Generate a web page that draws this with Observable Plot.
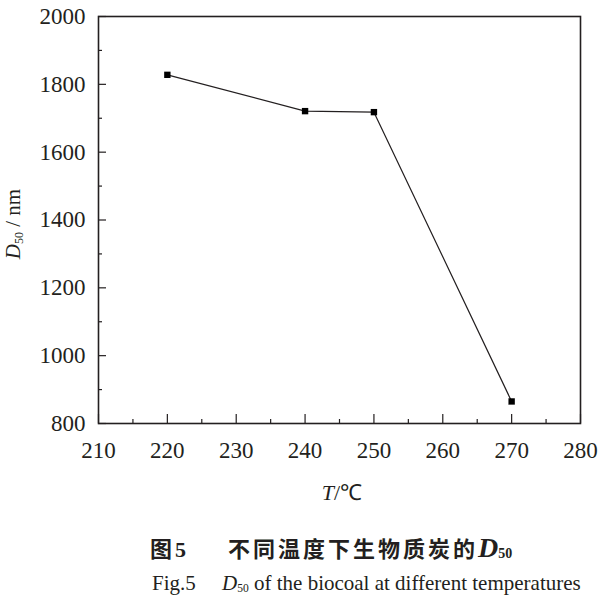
<!DOCTYPE html>
<html>
<head>
<meta charset="utf-8">
<script src="https://cdn.jsdelivr.net/npm/d3@7"></script>
<script src="https://cdn.jsdelivr.net/npm/@observablehq/plot@0.6"></script>
<style>
  body { margin: 0; background: #fff; width: 600px; height: 604px; position: relative; overflow: hidden; }
  #chart { position: absolute; left: 0; top: 0; }
  .cap-cn { position: absolute; left: 150px; top: 532px; font-family: "Noto Sans CJK SC", sans-serif; font-weight: 700; font-size: 22px; line-height: 30px; color: #231f20; white-space: nowrap; }
  .cap-cn .zh { letter-spacing: 3px; }
  .cap-en { position: absolute; left: 152px; top: 569px; font-family: "Liberation Serif", serif; font-size: 21px; line-height: 28px; color: #231f20; white-space: nowrap; }
  .ser { font-family: "Liberation Serif", serif; }
  .bigD { font-size: 28px; font-style: italic; font-weight: 700; }
  sub { font-size: 0.55em; vertical-align: -0.15em; }
  .cap-cn sub { font-size: 14px; vertical-align: -0.1em; }
</style>
</head>
<body>
<div id="chart"></div>
<div class="cap-cn"><span class="zh">图</span><span class="ser">5</span><span class="zh" style="margin-left:42px">不同温度下生物质炭的</span><span class="ser"><span class="bigD">D</span><sub>50</sub></span></div>
<div class="cap-en">Fig.5&nbsp;&nbsp;&nbsp;&nbsp;&nbsp;<i>D</i><sub>50</sub> of the biocoal at different temperatures</div>
<script>
// Data
const temps = [220, 240, 250, 270];
const d50 = [1828, 1721, 1718, 865];
const xTicks = [210, 220, 230, 240, 250, 260, 270, 280];
const xMinor = [215, 225, 235, 245, 255, 265, 275];
const yTicks = [800, 1000, 1200, 1400, 1600, 1800, 2000];
const yMinor = [900, 1100, 1300, 1500, 1700, 1900];

const data = temps.map((t, i) => ({t, d: d50[i]}));

const W = 600, H = 510, mT = 16, mB = 87, mL = 98, mR = 20;
const plotH = H - mT - mB, plotW = W - mL - mR;
const ink = "#231f20";
const serif = "Liberation Serif";

const chart = Plot.plot({
  width: W, height: H,
  marginTop: mT, marginBottom: mB, marginLeft: mL, marginRight: mR,
  x: {domain: [210, 280], axis: null},
  y: {domain: [800, 2000], axis: null},
  style: {fontFamily: serif, fontSize: "22px", color: ink, background: "white"},
  marks: [
    Plot.tickX(xTicks, {x: d => d, stroke: ink, strokeWidth: 1.2, insetTop: plotH - 9}),
    Plot.tickX(xMinor, {x: d => d, stroke: ink, strokeWidth: 1.2, insetTop: plotH - 4}),
    Plot.tickY(yTicks, {y: d => d, stroke: ink, strokeWidth: 1.2, insetRight: plotW - 8}),
    Plot.tickY(yMinor, {y: d => d, stroke: ink, strokeWidth: 1.2, insetRight: plotW - 4}),
    Plot.text(xTicks, {x: d => d, frameAnchor: "bottom", dy: 34, text: d => String(d), fontFamily: serif, fontSize: 23, fill: ink}),
    Plot.text(yTicks, {y: d => d, frameAnchor: "left", dx: -13, textAnchor: "end", text: d => String(d), fontFamily: serif, fontSize: 23, fill: ink}),
    Plot.frame({stroke: ink, strokeWidth: 1.6}),
    Plot.line(data, {x: "t", y: "d", stroke: ink, strokeWidth: 1.2}),
    Plot.dot(data, {x: "t", y: "d", symbol: "square", r: 3.6, fill: "#000", stroke: "none"})
  ]
});
document.getElementById("chart").append(chart);

// axis titles with italic / subscript parts
const svg = d3.select(chart);
const xl = svg.append("text")
  .attr("x", 342).attr("y", 500)
  .attr("text-anchor", "middle")
  .attr("font-family", serif)
  .attr("font-size", 22).attr("fill", ink);
xl.append("tspan").attr("font-style", "italic").text("T");
xl.append("tspan").text("/℃");

const yl = svg.append("text")
  .attr("transform", "translate(20,224) rotate(-90)")
  .attr("text-anchor", "middle")
  .attr("font-family", serif)
  .attr("font-size", 21).attr("fill", ink);
yl.append("tspan").attr("font-style", "italic").text("D");
yl.append("tspan").attr("font-size", 12).attr("dy", 3).text("50");
yl.append("tspan").attr("dy", -3).text(" / nm");
</script>
</body>
</html>
